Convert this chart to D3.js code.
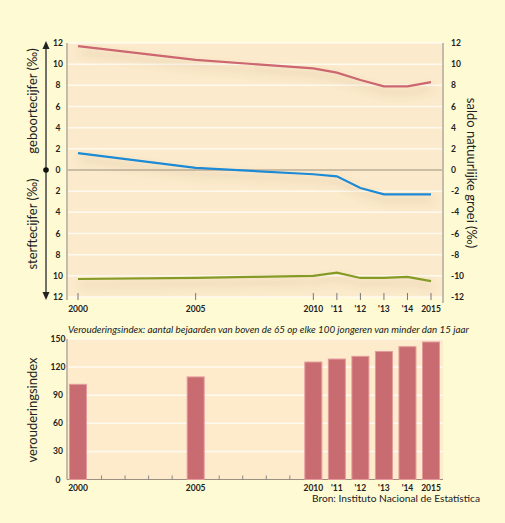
<!DOCTYPE html>
<html><head><meta charset="utf-8">
<script src="https://cdn.jsdelivr.net/npm/d3@7"></script>
<style>
html,body{margin:0;padding:0;background:#fefad3;}
svg{display:block;font-family:Lato,"Open Sans",sans-serif;}
</style></head><body>
<svg id="c" width="505" height="523"></svg>
<script>
const years = [2000, 2005, 2010, 2011, 2012, 2013, 2014, 2015];
const yearLabels = ["2000", "2005", "2010", "'11", "'12", "'13", "'14", "2015"];
const birthRate = [11.7, 10.4, 9.6, 9.2, 8.5, 7.9, 7.9, 8.3];
const deathRate = [10.3, 10.2, 10.0, 9.7, 10.2, 10.2, 10.1, 10.5];
const naturalBalance = [1.6, 0.2, -0.4, -0.6, -1.7, -2.3, -2.3, -2.3];
const agingIndex = [101.6, 109.5, 125.4, 128.6, 131.5, 136.7, 141.8, 146.8];
const leftTicks = [12, 10, 8, 6, 4, 2, 0, -2, -4, -6, -8, -10, -12];
const barTicks = [0, 30, 60, 90, 120, 150];

const svg = d3.select("#c");
const plotBg = "#fbeacb";
const x = d3.scaleLinear().domain([2000, 2015]).range([78, 431]);
const y = d3.scaleLinear().domain([-12, 12]).range([297, 43]);
const yb = d3.scaleLinear().domain([0, 150]).range([479.5, 339]);

const defs = svg.append("defs");
const f = defs.append("filter").attr("id", "sh").attr("x", "-10%").attr("y", "-50%").attr("width", "120%").attr("height", "300%");
f.append("feGaussianBlur").attr("in", "SourceAlpha").attr("stdDeviation", 4).attr("result", "b");
f.append("feOffset").attr("in", "b").attr("dx", 2).attr("dy", 6).attr("result", "o");
f.append("feFlood").attr("flood-color", "#a07a50").attr("flood-opacity", 0.35);
f.append("feComposite").attr("in2", "o").attr("operator", "in").attr("result", "s");
const m = f.append("feMerge"); m.append("feMergeNode").attr("in", "s"); m.append("feMergeNode").attr("in", "SourceGraphic");

// ===== TOP CHART =====
const L = 67, R = 443;
svg.append("rect").attr("x", L).attr("y", y(12)).attr("width", R - L).attr("height", y(-12) - y(12)).attr("fill", plotBg);
svg.append("g").selectAll("line").data(leftTicks.filter(d => d !== 0)).join("line")
  .attr("x1", L).attr("x2", R).attr("y1", d => y(d)).attr("y2", d => y(d))
  .attr("stroke", "#fffaf0").attr("stroke-width", 1.5);
svg.append("line").attr("x1", L).attr("x2", R).attr("y1", y(0)).attr("y2", y(0)).attr("stroke", "#9a8f80").attr("stroke-width", 1);
svg.append("line").attr("x1", L).attr("x2", L).attr("y1", y(12)).attr("y2", y(-12) + 3).attr("stroke", "#c4bcaa").attr("stroke-width", 2);
svg.append("line").attr("x1", R).attr("x2", R).attr("y1", y(12)).attr("y2", y(-12) + 6).attr("stroke", "#c4bcaa").attr("stroke-width", 2);

const line = d3.line().x((d, i) => x(years[i])).y(d => y(d));
const lines = svg.append("g").attr("filter", "url(#sh)");
lines.append("path").attr("d", line(birthRate)).attr("fill", "none").attr("stroke", "#cc6670").attr("stroke-width", 2.2);
lines.append("path").attr("d", line(naturalBalance)).attr("fill", "none").attr("stroke", "#1a8ad4").attr("stroke-width", 2.2);
lines.append("path").attr("d", line(deathRate.map(d => -d))).attr("fill", "none").attr("stroke", "#869a26").attr("stroke-width", 2.2);

// x axis ticks
svg.append("g").selectAll("line").data(years).join("line")
  .attr("x1", d => x(d)).attr("x2", d => x(d)).attr("y1", y(-12) - 4).attr("y2", y(-12) + 3)
  .attr("stroke", "#777").attr("stroke-width", 1);
svg.append("g").selectAll("text").data(years).join("text")
  .attr("x", d => x(d)).attr("y", 312).attr("text-anchor", "middle")
  .attr("font-size", 8.5).attr("font-weight", 700).attr("fill", "#222")
  .text((d, i) => yearLabels[i]);

// left axis labels
svg.append("g").selectAll("text").data(leftTicks).join("text")
  .attr("x", 58).attr("y", d => y(d) + 3).attr("text-anchor", "middle")
  .attr("font-size", 8.5).attr("font-weight", 700).attr("fill", "#222")
  .text(d => Math.abs(d));
// right axis labels
svg.append("g").selectAll("text").data(leftTicks).join("text")
  .attr("x", 451).attr("y", d => y(d) + 3).attr("text-anchor", "start")
  .attr("font-size", 8.5).attr("font-weight", 700).attr("fill", "#222")
  .text(d => d);

// left arrow axis
const ax = 46;
svg.append("line").attr("x1", ax).attr("x2", ax).attr("y1", y(12) + 2).attr("y2", y(-12) - 2).attr("stroke", "#444").attr("stroke-width", 1.5);
svg.append("path").attr("d", `M${ax},${y(12) - 2} l-3.5,8 l7,0 z`).attr("fill", "#222");
svg.append("path").attr("d", `M${ax},${y(-12) + 3} l-3.5,-8 l7,0 z`).attr("fill", "#222");
svg.append("circle").attr("cx", ax).attr("cy", y(0)).attr("r", 2.8).attr("fill", "#111");

svg.append("text").attr("transform", "translate(37,101) rotate(-90)").attr("text-anchor", "middle")
  .attr("font-size", 13).attr("fill", "#222").text("geboortecijfer (‰)");
svg.append("text").attr("transform", "translate(37,224) rotate(-90)").attr("text-anchor", "middle")
  .attr("font-size", 13).attr("fill", "#222").text("sterftecijfer (‰)");
svg.append("text").attr("transform", "translate(467,173) rotate(90)").attr("text-anchor", "middle")
  .attr("font-size", 13).attr("fill", "#222").text("saldo natuurlijke groei (‰)");

svg.append("text").attr("x", 68).attr("y", 333).attr("font-size", 9.8).attr("font-style", "italic").attr("fill", "#222")
  .text("Verouderingsindex: aantal bejaarden van boven de 65 op elke 100 jongeren van minder dan 15 jaar");

// ===== BOTTOM CHART =====
svg.append("rect").attr("x", L).attr("y", yb(150)).attr("width", R - L).attr("height", yb(0) - yb(150)).attr("fill", "#fdebcc");
svg.append("g").selectAll("line").data(barTicks.filter(d => d > 0)).join("line")
  .attr("x1", L).attr("x2", R).attr("y1", d => yb(d)).attr("y2", d => yb(d))
  .attr("stroke", "#fffaf0").attr("stroke-width", 1.5);
svg.append("line").attr("x1", L).attr("x2", L).attr("y1", yb(150)).attr("y2", yb(0)).attr("stroke", "#c4bcaa").attr("stroke-width", 2);
svg.append("line").attr("x1", L).attr("x2", R).attr("y1", yb(0)).attr("y2", yb(0)).attr("stroke", "#9a8f80").attr("stroke-width", 1);
const allYears = d3.range(2000, 2016);
svg.append("g").selectAll("line").data(allYears.filter(d => !years.includes(d))).join("line")
  .attr("x1", d => x(d)).attr("x2", d => x(d)).attr("y1", yb(0) - 4).attr("y2", yb(0))
  .attr("stroke", "#888").attr("stroke-width", 1);
const bw = 17;
svg.append("g").selectAll("rect").data(agingIndex).join("rect")
  .attr("x", (d, i) => x(years[i]) - bw / 2).attr("width", bw)
  .attr("y", d => yb(d)).attr("height", d => yb(0) - yb(d))
  .attr("fill", "#c86c71").attr("stroke", "#e49a9c").attr("stroke-width", 1);
svg.append("g").selectAll("text").data(barTicks).join("text")
  .attr("x", 58).attr("y", d => yb(d) + 3).attr("text-anchor", "middle")
  .attr("font-size", 8.5).attr("font-weight", 700).attr("fill", "#222")
  .text(d => d);
svg.append("g").selectAll("text").data(years).join("text")
  .attr("x", d => x(d)).attr("y", 491).attr("text-anchor", "middle")
  .attr("font-size", 8.5).attr("font-weight", 700).attr("fill", "#222")
  .text((d, i) => yearLabels[i]);
svg.append("text").attr("transform", "translate(37,410) rotate(-90)").attr("text-anchor", "middle")
  .attr("font-size", 13).attr("fill", "#222").text("verouderingsindex");
svg.append("text").attr("x", 480).attr("y", 502).attr("text-anchor", "end").attr("font-size", 10.2).attr("fill", "#222")
  .text("Bron: Instituto Nacional de Estatística");
</script></body></html>
